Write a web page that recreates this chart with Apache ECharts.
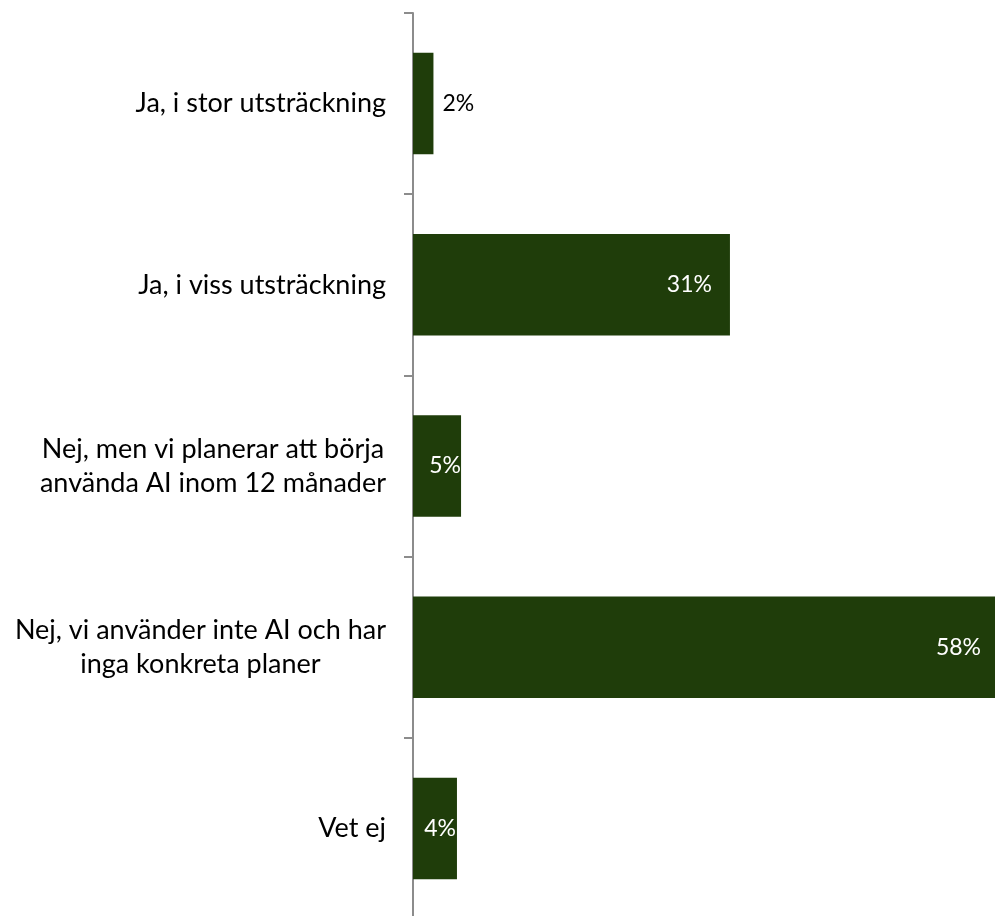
<!DOCTYPE html>
<html>
<head>
<meta charset="utf-8">
<script src="https://cdn.jsdelivr.net/npm/echarts@6/dist/echarts.min.js"></script>
<style>
html,body{margin:0;padding:0;background:#fff;}
#chart{width:995px;height:916px;}
</style>
</head>
<body>
<div id="chart"></div>
<script>
const categories = [
  "Ja, i stor utsträckning",
  "Ja, i viss utsträckning",
  "Nej, men vi planerar att börja\nanvända AI inom 12 månader",
  "Nej, vi använder inte AI och har\ninga konkreta planer",
  "Vet ej"
];
const values = [2.0, 31.0, 4.7, 58.0, 4.3];
const valueLabels = ["2%", "31%", "5%", "58%", "4%"];

const barColor = "#1f3d0a";
const fontFamily = "Lato, 'Liberation Sans', sans-serif";

// label placement per bar (outside for the tiny first bar)
const labelPlacement = [
  {position: "right", distance: 9, color: "#000"},
  {position: "insideRight", distance: 18, color: "#fff"},
  {position: "insideRight", distance: 0, color: "#fff"},
  {position: "insideRight", distance: 25, color: "#fff"},
  {position: "insideRight", distance: 1, color: "#fff"}
];

const chart = echarts.init(document.getElementById("chart"), null, {renderer: "canvas"});
chart.setOption({
  backgroundColor: "#fff",
  animation: false,
  grid: {left: 413, top: 13, width: 593, height: 906, containLabel: false, outerBoundsMode: "none"},
  xAxis: {
    type: "value", min: 0, max: 58,
    show: false
  },
  yAxis: {
    type: "category",
    inverse: true,
    data: categories,
    axisLine: {show: true, lineStyle: {color: "#8c8c8c", width: 2}},
    axisTick: {show: true, length: 9, lineStyle: {color: "#8c8c8c", width: 2}},
    axisLabel: {
      margin: 27,
      formatter: function (v) {
        return v.split("\n").map(function (l) { return "{c|" + l + "}"; }).join("\n");
      },
      rich: {
        c: {align: "center", fontSize: 27, lineHeight: 34, fontFamily: fontFamily, color: "#000"}
      }
    },
    splitLine: {show: false}
  },
  series: [{
    type: "bar",
    barCategoryGap: "44%",
    itemStyle: {color: barColor},
    data: values.map(function (v, i) {
      return {
        value: v,
        label: {
          show: true,
          position: labelPlacement[i].position,
          distance: labelPlacement[i].distance,
          color: labelPlacement[i].color,
          fontSize: 23,
          fontFamily: fontFamily,
          formatter: function () { return valueLabels[i]; }
        }
      };
    })
  }]
});
</script>
</body>
</html>
